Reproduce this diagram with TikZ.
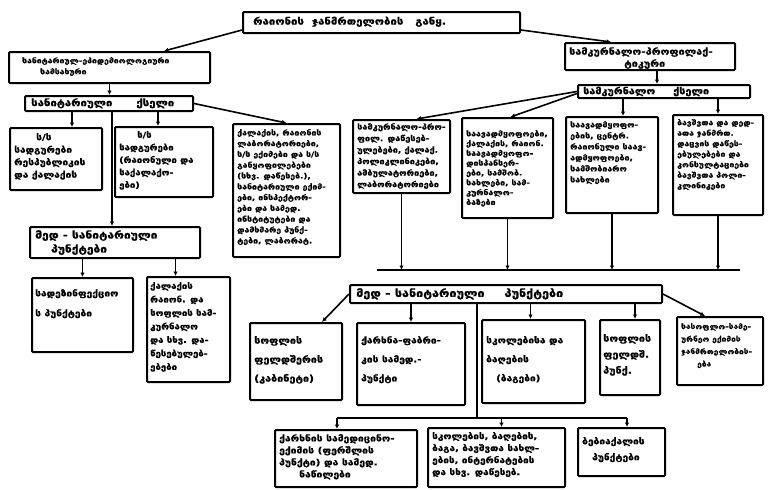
\documentclass[tikz,border=0pt]{standalone}
\usepackage{fontspec}
\setmainfont{DejaVu Sans}[BoldFeatures={FakeStretch=1.2,FakeBold=0.8}]
\usetikzlibrary{fit,arrows.meta}
\newcommand\fsz[2]{\fontsize{#1}{#2}\selectfont\bfseries}
\begin{document}
\begin{tikzpicture}[x=1pt,y=-1pt,
  bx/.style={draw,line width=2pt,inner sep=0pt,rounded corners=1pt},
  tx/.style={align=left,inner sep=0pt,anchor=north west},
  tc/.style={align=center,inner sep=0pt},
  ln/.style={line width=1.6pt},
  ar/.style={line width=1.6pt,-{Latex[length=4.5pt,width=4.5pt]}}]
\useasboundingbox (0,0) rectangle (772,490);
% ---------- boxes ----------
\node[bx,fit={(243,12)(520,33)}] (top) {};
\node[bx,fit={(9,52)(210,83)}] (L0) {};
\node[bx,fit={(565,43)(735,70)}] (R0) {};
\node[bx,fit={(25,96)(193,111)}] (LS) {};
\node[bx,fit={(578,85)(750,98)}] (RS) {};
\node[bx,fit={(10,128)(102,190)}] (L1) {};
\node[bx,fit={(115,127)(213,197)}] (L2) {};
\node[bx,fit={(233,124)(340,257)}] (BG) {};
\node[bx,fit={(353,120)(450,193)}] (A) {};
\node[bx,fit={(462,118)(553,218)}] (B) {};
\node[bx,fit={(566,117)(658,213)}] (C) {};
\node[bx,fit={(673,115)(763,215)}] (D) {};
\node[bx,fit={(30,227)(200,258)}] (LM) {};
\node[bx,fit={(32,278)(133,352)}] (LC1) {};
\node[bx,fit={(147,277)(230,382)}] (LC2) {};
\node[bx,fit={(350,285)(662,303)}] (BM) {};
\node[bx,fit={(250,323)(342,400)}] (R1) {};
\node[bx,fit={(357,323)(465,405)}] (R2) {};
\node[bx,fit={(482,320)(585,403)}] (R3) {};
\node[bx,fit={(600,320)(660,395)}] (R4) {};
\node[bx,fit={(677,317)(763,385)}] (R5) {};
\node[bx,fit={(275,430)(417,487)}] (C1) {};
\node[bx,fit={(428,428)(565,487)}] (C2) {};
\node[bx,fit={(578,428)(665,476)}] (C3) {};
% ---------- texts ----------
\node[tx,font=\fsz{9.5}{11}] (topt) at (253,16.5) {რაიონის\hspace{8pt}ჯანმრთელობის\hspace{12pt}განყ.};
\node[tx,font=\fsz{7.2}{11}] (L0t) at (22,57) {სანიტარიულ-ეპიდემიოლოგიური\\\hspace*{18pt}სამსახური};
\node[tx,font=\fsz{9}{12}] (R0t) at (569,47) {სამკურნალო-პროფილაქ-\\\hspace*{55pt}ტიკური};
\node[tx,font=\fsz{9.5}{9}] (LSt) at (31,98) {სანიტარიული\hspace{24pt}ქსელი};
\node[tx,font=\fsz{9}{9}] (RSt) at (583,86.5) {სამკურნალო\hspace{18pt}ქსელი};
\node[tx,font=\fsz{8.5}{12.5}] (L1t) at (14,133) {\hspace*{22pt}ს/ს\\სადგურები\\რესპუბლიკის\\და ქალაქის};
\node[tx,font=\fsz{8}{12.5}] (L2t) at (119,131) {\hspace*{18pt}ს/ს\\სადგურები\\(რაიონული და\\საქალაქო-\\ები)};
\node[tx,font=\fsz{7.3}{10.8}] (BGt) at (237,129) {ქალაქის, რაიონის\\ლაბორატორიები,\\ს/ს ექიმები და ს/ს\\განყოფილებები\\(სხვ. დაწესებ.),\\სანიტარიული ექიმ-\\ები, ინსპექტორ-\\ები და სამედ.\\ინსტიტუტები და\\დამხმარე პუნქ-\\ტები, ლაბორატ.};
\node[tx,font=\fsz{7.6}{11.5}] (At) at (357,123) {სამკურნალო-პრო-\\ფილ. დაწესებ-\\ულებები, ქალაქ.\\პოლიკლინიკები,\\ამბულატორიები,\\ლაბორატორიები};
\node[tx,font=\fsz{7.3}{9.8}] (Bt) at (466,130) {საავადმყოფოები,\\ქალაქის, რაიონ.\\საავადმყოფო-\\დისპანსერ-\\ები, სამშობ.\\სახლები, სამ-\\კურნალო-\\ბაზები};
\node[tx,font=\fsz{7.4}{11}] (Ct) at (570,121) {საავადმყოფო-\\ების, ცენტრ.\\რაიონული საავ-\\ადმყოფოები,\\სამშობიარო\\სახლები};
\node[tx,font=\fsz{7.2}{10.5}] (Dt) at (677,119) {ბავშვთა და დედ-\\ათა ჯანმრთ.\\დაცვის დაწეს-\\ებულებები და\\კონსულტაციები\\ბავშვთა პოლი-\\კლინიკები};
\node[tx,font=\fsz{10}{14}] (LMt) at (35,230) {მედ - სანიტარიული\\\hspace*{16pt}პუნქტები};
\node[tx,font=\fsz{8.5}{20}] (LC1t) at (35,289) {სადეზინფექციო\\ს პუნქტები};
\node[tx,font=\fsz{8}{13.5}] (LC2t) at (150,282) {ქალაქის\\რაიონ. და\\სოფლის სამ-\\კურნალო\\და სხვ. და-\\წესებულებ-\\ებები};
\node[tx,font=\fsz{10.5}{10}] (BMt) at (356,288) {მედ - სანიტარიული\hspace{20pt}პუნქტები};
\node[tx,font=\fsz{9}{19}] (R1t) at (254,336) {სოფლის\\ფელდშერის\\(კაბინეტი)};
\node[tx,font=\fsz{8.5}{19}] (R2t) at (361,336) {ქარხნა-ფაბრი-\\კის სამედ.-\\პუნქტი};
\node[tx,font=\fsz{8.5}{19}] (R3t) at (486,336) {სკოლებისა და\\ბაღების\\\hspace*{10pt}(ბაგები)};
\node[tx,font=\fsz{9}{16}] (R4t) at (603,334) {სოფლის\\ფელდშ.\\პუნქ.};
\node[tx,font=\fsz{7}{12.5}] (R5t) at (681,323) {სასოფლო-სამე-\\ურნეო ექიმის\\ჯანმრთელობის-\\\hspace*{16pt}ება};
\node[tx,font=\fsz{8.6}{12}] (C1t) at (279,434) {ქარხნის სამედიცინო-\\ექიმის (ფერშლის\\პუნქტი) და სამედ.\\\hspace*{20pt}ნაწილები};
\node[tx,font=\fsz{8.3}{12}] (C2t) at (432,432) {სკოლების, ბაღების,\\ბაგა, ბავშვთა სახლ-\\ების, ინტერნატების\\და სხვ. დაწესებ.};
\node[tx,font=\fsz{8.5}{16}] (C3t) at (582,437) {ბებიაქალის\\\hspace*{10pt}პუნქტები};
% ---------- connectors ----------
\draw[ar] ([yshift=4pt]top.south west) -- ([xshift=-47pt]L0.north east);
\draw[ar] ([yshift=4pt]top.south east) -- ([xshift=47pt]R0.north west);
\draw[ar] (L0.south) -- (L0.south |- LS.north);
\draw[ar] ([xshift=16pt]L1.north |- LS.south) -- ([xshift=16pt]L1.north);
\draw[ar] ([xshift=-6pt]L2.north |- LS.south) -- ([xshift=-6pt]L2.north);
\draw[ar] ([xshift=-3pt]LM.north |- LS.south) -- ([xshift=-3pt]LM.north);
\draw[ar] (LS.east) -- (BG.north);
\draw[ar] (LC1.north |- LM.south) -- (LC1.north);
\draw[ar] ([xshift=-13pt]LC2.north |- LM.south) -- ([xshift=-13pt]LC2.north);
\draw[ar] ([xshift=7pt]R0.south) -- ([xshift=7pt]R0.south |- RS.north);
\draw[ar] ([xshift=11pt]C.north |- RS.south) -- ([xshift=11pt]C.north);
\draw[ar] (D.north |- RS.south) -- (D.north);
\draw[ar] (RS.west) -- ([xshift=15pt]A.north);
\draw[ar] ([yshift=-2pt]RS.west) -- ([xshift=3pt]B.north);
\coordinate (hl1) at (377,270);
\coordinate (hl2) at (740,270);
\draw[ln] (hl1) -- (hl2);
\draw[ar] (A.south) -- (A.south |- hl1);
\draw[ar] (B.south) -- (B.south |- hl1);
\draw[ar] (C.south) -- (C.south |- hl1);
\draw[ar] (D.south) -- (D.south |- hl1);
\draw[ar] (BM.west) -- ([xshift=26pt]R1.north);
\draw[ar] (R2.north |- BM.south) -- (R2.north);
\draw[ar] ([xshift=-3pt]R3.north |- BM.south) -- ([xshift=-3pt]R3.north);
\draw[ar] ([xshift=5pt]R4.north |- BM.south) -- ([xshift=5pt]R4.north);
\draw[ar] (BM.east) -- ([xshift=-15pt]R5.north);
\coordinate (br) at (477,418);
\draw[ln] (BM.south -| br) -- (br);
\draw[ln] ([xshift=-9pt]C1.north |- br) -- ([xshift=5.5pt]C3.north |- br);
\draw[ar] ([xshift=-9pt]C1.north |- br) -- ([xshift=-9pt]C1.north);
\draw[ar] ([xshift=5pt]C2.north |- br) -- ([xshift=5pt]C2.north);
\draw[ar] ([xshift=5.5pt]C3.north |- br) -- ([xshift=5.5pt]C3.north);
\end{tikzpicture}
\end{document}
